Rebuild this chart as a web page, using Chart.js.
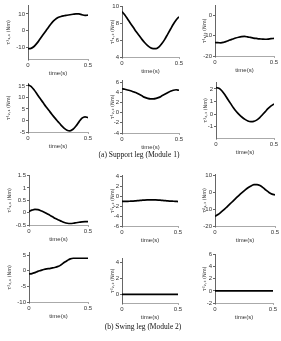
<!DOCTYPE html>
<html>
<head>
<meta charset="utf-8">
<script src="https://cdn.jsdelivr.net/npm/chart.js@4.4.1/dist/chart.umd.min.js"></script>
<style>
  body { margin: 0; background: #fff; width: 281px; height: 341px; position: relative; overflow: hidden; }
  canvas { position: absolute; }
  .cap { position: absolute; font-family: "Liberation Serif", serif; font-size: 7.5px; line-height: 9px; color: #111; white-space: nowrap;
         transform: translateX(-50%) translateZ(0); will-change: transform; }
</style>
</head>
<body>
<div class="cap" style="left:139px; top:150px;">(a) Support leg (Module 1)</div>
<div class="cap" style="left:143px; top:322px;">(b) Swing leg (Module 2)</div>

<script>
// time samples (s)
const time = [0, 0.025, 0.05, 0.075, 0.1, 0.125, 0.15, 0.175, 0.2, 0.225, 0.25,
  0.275, 0.3, 0.325, 0.35, 0.375, 0.4, 0.425, 0.45, 0.475, 0.5];
const timeTicks = [0, 0.5];

// Module 1 - support leg
const tau1_11 = [-10.8, -10.6, -9.5, -7.5, -5, -2.5, 0, 2.5, 4.8, 6.6, 7.8, 8.5, 8.9, 9.2, 9.5, 9.8, 10.1, 10.0, 9.5, 9.1, 9.3];
const tau1_12 = [9.4, 9.0, 8.5, 8.0, 7.5, 7.0, 6.55, 6.1, 5.7, 5.35, 5.1, 5.0, 5.0, 5.2, 5.6, 6.1, 6.7, 7.3, 7.9, 8.4, 8.8];
const tau1_13 = [-13.3, -13.4, -13.5, -13.2, -12.7, -12.1, -11.6, -11.1, -10.7, -10.4, -10.3, -10.5, -10.8, -11.1, -11.3, -11.5, -11.6, -11.7, -11.6, -11.4, -11.3];
const tau1_21 = [15.5, 14.8, 13.3, 11.5, 9.6, 7.8, 6.0, 4.3, 2.6, 1.0, -0.5, -2.0, -3.3, -4.2, -4.5, -3.8, -2.4, -0.6, 1.0, 1.6, 1.2];
const tau1_22 = [4.7, 4.6, 4.45, 4.3, 4.1, 3.9, 3.6, 3.3, 3.0, 2.8, 2.7, 2.7, 2.8, 3.0, 3.3, 3.6, 3.9, 4.2, 4.4, 4.5, 4.4];
const tau1_23 = [2.1, 2.05, 1.85, 1.55, 1.2, 0.85, 0.5, 0.2, -0.05, -0.25, -0.42, -0.55, -0.6, -0.58, -0.48, -0.3, -0.05, 0.2, 0.45, 0.65, 0.8];

// Module 2 - swing leg
const tau2_11 = [0.05, 0.1, 0.13, 0.12, 0.08, 0.03, -0.03, -0.1, -0.17, -0.24, -0.3, -0.35, -0.4, -0.43, -0.44, -0.43, -0.41, -0.39, -0.37, -0.36, -0.36];
const tau2_12 = [-1.0, -1.0, -1.0, -0.98, -0.95, -0.9, -0.85, -0.8, -0.75, -0.72, -0.7, -0.7, -0.72, -0.75, -0.8, -0.85, -0.9, -0.95, -0.98, -1.0, -1.05];
const tau2_13 = [-14.3, -13.2, -11.8, -10.3, -8.6, -6.9, -5.2, -3.5, -1.8, -0.2, 1.3, 2.7, 3.8, 4.5, 4.6, 4.0, 2.8, 1.3, -0.1, -1.1, -1.5];
const tau2_21 = [-1.0, -0.9, -0.6, -0.2, 0.1, 0.4, 0.6, 0.7, 0.9, 1.1, 1.4, 2.0, 2.7, 3.3, 3.8, 4.0, 4.0, 4.0, 4.0, 4.0, 4.0];
const tau2_22 = [0, 0, 0, 0, 0, 0, 0, 0, 0, 0, 0, 0, 0, 0, 0, 0, 0, 0, 0, 0, 0];
const tau2_23 = [0, 0, 0, 0, 0, 0, 0, 0, 0, 0, 0, 0, 0, 0, 0, 0, 0, 0, 0, 0, 0];

// y tick labels per panel
const ticks1_11 = [-10, 0, 10];
const ticks1_12 = [4, 6, 8, 10];
const ticks1_13 = [-20, -10, 0];
const ticks1_21 = [-5, 0, 5, 10, 15];
const ticks1_22 = [-4, -2, 0, 2, 4, 6];
const ticks1_23 = [-1, 0, 1, 2];
const ticks2_11 = [-0.5, 0, 0.5, 1, 1.5];
const ticks2_12 = [-6, -4, -2, 0, 2, 4];
const ticks2_13 = [-20, -10, 0, 10];
const ticks2_21 = [-10, -5, 0, 5];
const ticks2_22 = [0, 2, 4];
const ticks2_23 = [-2, 0, 2, 4, 6];

const labels = [
  'τ¹₁,₁ (Nm)', 'τ¹₁,₂ (Nm)', 'τ¹₁,₃ (Nm)',
  'τ¹₂,₁ (Nm)', 'τ¹₂,₂ (Nm)', 'τ¹₂,₃ (Nm)',
  'τ²₁,₁ (Nm)', 'τ²₁,₂ (Nm)', 'τ²₁,₃ (Nm)',
  'τ²₂,₁ (Nm)', 'τ²₂,₂ (Nm)', 'τ²₂,₃ (Nm)'
];

// plot area boxes: left, top, right, bottom, y-axis band width, y min, y max
const panels = [
  { v: tau1_11, t: ticks1_11, L: 28, T: 5, R: 88, B: 59, yw: 22, min: -17, max: 15 },
  { v: tau1_12, t: ticks1_12, L: 122, T: 5.5, R: 179, B: 56, yw: 12, min: 4, max: 10 },
  { v: tau1_13, t: ticks1_13, L: 215, T: 5, R: 274, B: 56, yw: 13, min: -20, max: 5 },
  { v: tau1_21, t: ticks1_21, L: 28, T: 83, R: 88, B: 132, yw: 22, min: -5, max: 16 },
  { v: tau1_22, t: ticks1_22, L: 122, T: 80, R: 179, B: 133, yw: 12, min: -4, max: 6.3 },
  { v: tau1_23, t: ticks1_23, L: 216, T: 82, R: 274, B: 138, yw: 13, min: -1.9, max: 2.5 },
  { v: tau2_11, t: ticks2_11, L: 29, T: 175, R: 88, B: 225, yw: 22, min: -0.5, max: 1.5 },
  { v: tau2_12, t: ticks2_12, L: 122, T: 175, R: 178, B: 226, yw: 12, min: -6, max: 4.2 },
  { v: tau2_13, t: ticks2_13, L: 215, T: 174, R: 275, B: 226, yw: 13, min: -20, max: 10.5 },
  { v: tau2_21, t: ticks2_21, L: 29, T: 252, R: 88, B: 302, yw: 22, min: -10, max: 5.8 },
  { v: tau2_22, t: ticks2_22, L: 122, T: 258, R: 178, B: 303, yw: 12, min: -1.1, max: 4.5 },
  { v: tau2_23, t: ticks2_23, L: 215, T: 254, R: 273, B: 303, yw: 13, min: -2, max: 6 }
];

const PAD_TOP = 4, PAD_RIGHT = 8, XH = 18;

panels.forEach((p, i) => {
  const cv = document.createElement('canvas');
  const w = Math.round(p.yw + (p.R - p.L) + PAD_RIGHT);
  const h = Math.round(PAD_TOP + (p.B - p.T) + XH);
  cv.width = w; cv.height = h;
  cv.style.width = w + 'px'; cv.style.height = h + 'px';
  cv.style.left = (p.L - p.yw) + 'px';
  cv.style.top = (p.T - PAD_TOP) + 'px';
  document.body.appendChild(cv);

  new Chart(cv, {
    type: 'line',
    data: {
      datasets: [{
        data: time.map((x, k) => ({ x: x, y: p.v[k] })),
        borderColor: '#000',
        borderWidth: 1.7,
        pointRadius: 0,
        cubicInterpolationMode: 'monotone',
        fill: false
      }]
    },
    options: {
      responsive: false,
      animation: false,
      devicePixelRatio: 1,
      layout: { padding: { top: PAD_TOP, right: PAD_RIGHT, left: 0, bottom: 0 } },
      plugins: { legend: { display: false }, tooltip: { enabled: false } },
      scales: {
        x: {
          type: 'linear', min: 0, max: 0.5,
          afterBuildTicks: s => { s.ticks = timeTicks.map(v => ({ value: v })); },
          afterFit: s => { s.height = XH; },
          border: { color: '#aaa', width: 1 },
          grid: { drawOnChartArea: false, drawTicks: true, tickLength: 2, color: '#aaa' },
          ticks: { font: { family: 'Liberation Sans', size: 6 }, color: '#333', padding: 1, maxRotation: 0,
                   autoSkip: false, callback: v => String(v) },
          title: { display: true, text: 'time(s)', font: { family: 'Liberation Sans', size: 6 }, color: '#333', padding: 0 }
        },
        y: {
          min: p.min, max: p.max,
          afterBuildTicks: s => { s.ticks = p.t.map(v => ({ value: v })); },
          afterFit: s => { s.width = p.yw; },
          border: { color: '#666', width: 1 },
          grid: { drawOnChartArea: false, drawTicks: true, tickLength: 2, color: '#666' },
          ticks: { font: { family: 'Liberation Sans', size: 6 }, color: '#333', padding: 1,
                   autoSkip: false, callback: v => String(v) },
          title: { display: true, text: labels[i], font: { family: 'DejaVu Sans', size: 5 }, color: '#333', padding: 0 }
        }
      }
    }
  });
});
</script>
</body>
</html>
